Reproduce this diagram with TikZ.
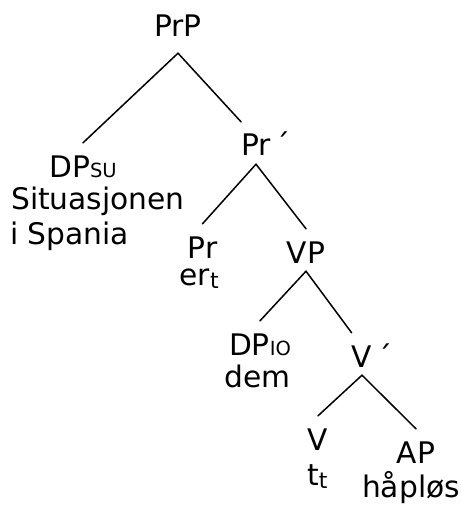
\documentclass[tikz,border=0pt]{standalone}
\usepackage{fontspec}
\setmainfont{DejaVu Sans}
\newcommand{\gfsc}[1]{{\fontsize{19.5}{19.5}\selectfont #1}}
\newcommand{\trc}[1]{\raisebox{-3.5pt}{\fontsize{22}{22}\selectfont #1}}
\newcommand{\primed}[1]{#1\rlap{\,´}}
\begin{document}
\begin{tikzpicture}[x=1pt,y=-1pt,line cap=round,
    cat/.style={font=\fontsize{29.7}{34}\selectfont,inner sep=0pt,anchor=base,
      text height=34pt,text depth=8pt},
    word/.style={font=\fontsize{29.7}{34}\selectfont,inner sep=0pt,anchor=base west},
    branch/.style={line width=1.5pt}]
  \useasboundingbox (0,0) rectangle (460,505);
  \node[cat,text depth=16pt] (prp) at (178,37) {PrP};
  \node[cat] (dpsu) at (83,177) {DP\gfsc{SU}};
  \node[word] (sit) at (11,209) {Situasjonen};
  \node[word] (spania) at (10,244) {i Spania};
  \node[cat] (prbar) at (256,156) {\primed{Pr}};
  \node[cat] (pr) at (202.5,258) {Pr};
  \node[word] (er) at (179.5,285) {er\trc{t}};
  \node[cat] (vp) at (306,263) {VP};
  \node[cat] (dpio) at (260,355) {DP\gfsc{IO}};
  \node[word] (dem) at (224.5,387) {dem};
  \node[cat] (vbar) at (362,367) {\primed{V}};
  \node[cat] (v) at (318,450) {V};
  \node[word] (tt) at (307,485) {t\trc{t}};
  \node[cat] (ap) at (416,463) {AP};
  \node[word,anchor=base] (haplos) at (411,497) {håpløs};
  \draw[branch] (prp.south) -- (dpsu.north);
  \draw[branch] (prp.south) -- (prbar.north west);
  \draw[branch] (prbar.south) -- (pr.north);
  \draw[branch] (prbar.south) -- (vp.north);
  \draw[branch] (vp.south) -- (dpio.north);
  \draw[branch] (vp.south) -- (vbar.north west);
  \draw[branch] (vbar.south) -- (v.north);
  \draw[branch] (vbar.south) -- (ap.north);
\end{tikzpicture}
\end{document}
